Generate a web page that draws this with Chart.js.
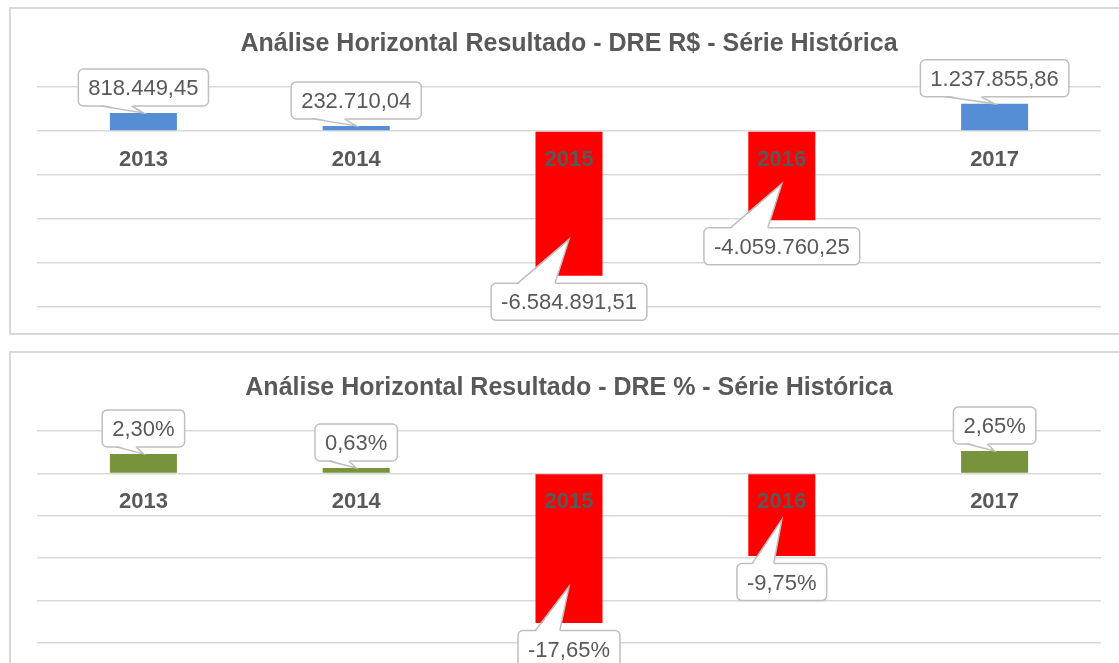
<!DOCTYPE html>
<html>
<head>
<meta charset="utf-8">
<title>Análise Horizontal Resultado - DRE</title>
<script src="https://cdn.jsdelivr.net/npm/chart.js@4.4.0/dist/chart.umd.min.js"></script>
<style>
html, body { margin: 0; padding: 0; background: #fff; overflow: hidden; width: 1119px; height: 663px; }
.quadro { position: absolute; left: 9px; width: 1116px; border: 2px solid #d9d9d9; background: #fff; }
.quadro canvas { display: block; }
</style>
</head>
<body>
<div class="quadro" style="top:7px; height:324px;"><canvas id="graph1"></canvas></div>
<div class="quadro" style="top:351px; height:316px;"><canvas id="graph2"></canvas></div>

<script>
// dados
var anos = ["2013", "2014", "2015", "2016", "2017"];
var resultado_rs = [818449.45, 232710.04, -6584891.51, -4059760.25, 1237855.86];
var resultado_pct = [2.30, 0.63, -17.65, -9.75, 2.65];

// limites dos eixos [min, max, passo]
var eixo_rs = [-8000000, 2000000, 2000000];
var eixo_pct = [-20, 5, 5];

var fonte = "'Liberation Sans', Arial, sans-serif";
var cinza_texto = "#595959";

// 1234567.8 -> "1.234.567,80"
function formata_br(v, casas) {
    let neg = v < 0;
    let partes = Math.abs(v).toFixed(casas).split(".");
    let inteiro = partes[0].replace(/\B(?=(\d{3})+(?!\d))/g, ".");
    return (neg ? "-" : "") + inteiro + "," + partes[1];
}

// rótulos das categorias sobre a linha do zero + balões com os valores
var plugin_rotulos = {
    id: "rotulos",
    afterDatasetsDraw(chart, args, opts) {
        const ctx = chart.ctx;
        const sx = chart.scales.x, sy = chart.scales.y;
        const zero = sy.getPixelForValue(0);

        ctx.save();
        ctx.font = "bold 22px " + fonte;
        ctx.fillStyle = cinza_texto;
        ctx.textAlign = "center";
        ctx.textBaseline = "alphabetic";
        chart.data.labels.forEach((lab, i) => {
            ctx.fillText(lab, sx.getPixelForValue(i), zero + 35);
        });

        ctx.font = "22px " + fonte;
        const meta = chart.getDatasetMeta(0);
        meta.data.forEach((bar, i) => {
            let valor = chart.data.datasets[0].data[i];
            let txt = opts.formato(valor);
            let w = ctx.measureText(txt).width + 20, h = 37;
            let cx = bar.x;
            let topo, base, ponta;
            if (valor >= 0) {
                topo = bar.y - 7 - h; base = topo + h; ponta = bar.y;
            } else {
                topo = bar.y + 7.5; base = topo; ponta = topo - 44;
            }
            let esq = cx - w / 2;

            // caixa
            ctx.beginPath();
            ctx.roundRect(esq, topo, w, h, 5);
            ctx.fillStyle = "#fff";
            ctx.fill();
            ctx.lineWidth = 1.5;
            ctx.strokeStyle = "#bfbfbf";
            ctx.stroke();

            // ponteiro
            let b1 = cx - 0.33 * w, b2 = cx - 0.09 * w;
            let dentro = valor >= 0 ? -1.5 : 1.5;
            ctx.beginPath();
            ctx.moveTo(b1, base + dentro);
            ctx.lineTo(cx, ponta);
            ctx.lineTo(b2, base + dentro);
            ctx.closePath();
            ctx.fill();
            ctx.beginPath();
            ctx.moveTo(b1, base);
            ctx.lineTo(cx, ponta);
            ctx.lineTo(b2, base);
            ctx.stroke();

            ctx.fillStyle = cinza_texto;
            ctx.fillText(txt, cx, topo + h / 2 + 7.5);
        });
        ctx.restore();
    }
};

function cria_grafico(id, titulo, valores, cor, eixo, formato) {
    var ctx = document.getElementById(id).getContext("2d");
    return new Chart(ctx, {
        type: "bar",
        data: {
            labels: anos,
            datasets: [{
                data: valores,
                backgroundColor: valores.map(v => v < 0 ? "#ff0000" : cor),
                barPercentage: 0.315,
                categoryPercentage: 1
            }]
        },
        options: {
            responsive: true,
            maintainAspectRatio: false,
            animation: false,
            layout: { padding: { left: 26, right: 26, top: 0, bottom: 26 } },
            scales: {
                x: { display: false },
                y: {
                    min: eixo[0],
                    max: eixo[1],
                    ticks: { display: false, stepSize: eixo[2] },
                    border: { display: false },
                    grid: { color: "#d9d9d9", lineWidth: 1.5, drawTicks: false }
                }
            },
            plugins: {
                legend: { display: false },
                tooltip: { enabled: false },
                title: {
                    display: true,
                    text: titulo,
                    color: cinza_texto,
                    font: { family: fonte, size: 25, weight: "bold" },
                    padding: { top: 20, bottom: 28 }
                },
                rotulos: { formato: formato }
            }
        },
        plugins: [plugin_rotulos]
    });
}

cria_grafico("graph1", "Análise Horizontal Resultado - DRE R$ - Série Histórica",
    resultado_rs, "#558ed5", eixo_rs, v => formata_br(v, 2));

cria_grafico("graph2", "Análise Horizontal Resultado - DRE % - Série Histórica",
    resultado_pct, "#77933c", eixo_pct, v => formata_br(v, 2) + "%");
</script>
</body>
</html>
